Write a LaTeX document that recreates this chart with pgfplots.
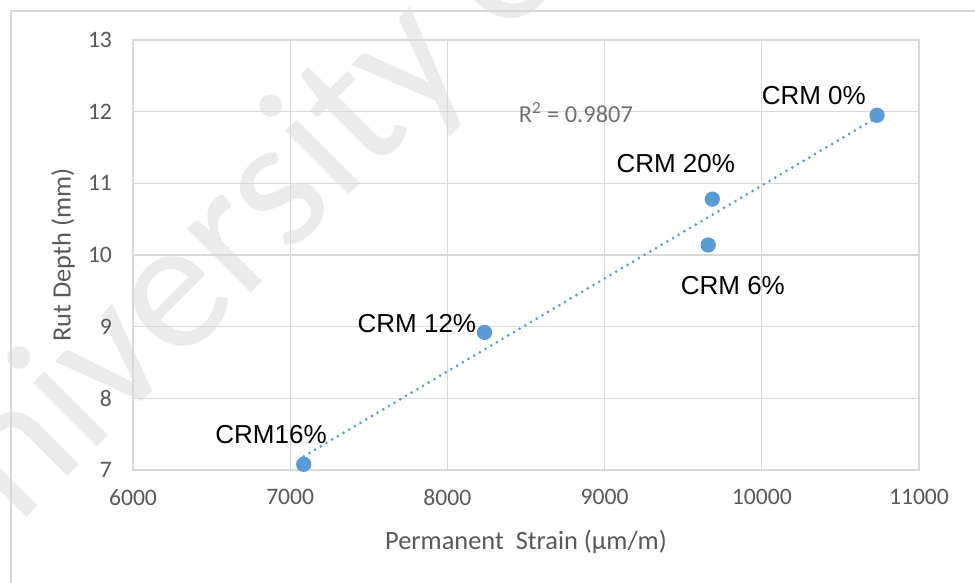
\documentclass[border=0pt]{standalone}
\usepackage{pgfplots}
\pgfplotsset{compat=1.18}
\usepackage{fontspec}
\setmainfont{Carlito}
\newfontfamily\arial{Liberation Sans}
\definecolor{xlblue}{HTML}{5B9BD5}
\definecolor{xlgrid}{HTML}{D9D9D9}
\definecolor{xltext}{HTML}{595959}
\definecolor{wmark}{HTML}{EBEBEB}

% measurements taken from the 975x583 screenshot, 1px = 0.5pt
\begin{document}
\begin{tikzpicture}
\useasboundingbox (0,0) rectangle (487.5pt,-291.5pt);
\fill[white] (0,0) rectangle (487.5pt,-291.5pt);
\begin{scope}
\clip (0,0) rectangle (487.5pt,-291.5pt);
\node[rotate=45, anchor=base west, text=wmark, font=\fontsize{94}{99}\selectfont, inner sep=0pt]
  at (-34pt,-306pt) {University of};
\end{scope}
\draw[xlgrid, line width=0.8pt] (5.5pt,-291.5pt) -- (5.5pt,-5.5pt) -- (487.5pt,-5.5pt);

\begin{axis}[
  at={(66.5pt,-235pt)}, anchor=south west,
  scale only axis, width=393pt, height=215pt,
  xmin=6000, xmax=11000, ymin=7, ymax=13,
  xtick={6000,7000,...,11000}, ytick={7,8,...,13},
  scaled ticks=false,
  grid=major,
  major grid style={xlgrid, line width=0.6pt},
  axis line style={xlgrid, line width=0.6pt},
  major tick length=0pt,
  /pgf/number format/assume math mode=true,
  /pgf/number format/set thousands separator={},
  ticklabel style={font=\fontsize{11.8}{14}\selectfont, text=xltext},
  yticklabel style={xshift=-7pt},
  xticklabel style={yshift=-6pt},
  xlabel={Permanent\ \ Strain (µm/m)},
  ylabel={Rut Depth (mm)},
  label style={font=\fontsize{13.2}{15}\selectfont, text=xltext},
  xlabel style={at={(axis description cs:0.5,-0.167)}, anchor=center},
  ylabel style={at={(axis description cs:-0.089,0.5)}, anchor=center},
  clip=false,
]
% linear trendline, end points
\addplot[xlblue, line width=1.5pt, line cap=round, dash pattern=on 0pt off 3.3pt]
  coordinates {(7086,7.19) (10733,11.92)};
\addplot[only marks, mark=*, mark size=3.6pt, mark options={draw=xlblue, fill=xlblue}]
  coordinates {
  (10733,11.95)
  (9685,10.78)
  (9659,10.14)
  (8236,8.92)
  (7086,7.08)
};
\node[font=\arial\fontsize{13}{15}\selectfont] at (axis cs:10331,12.23) {CRM 0\%};
\node[font=\arial\fontsize{13}{15}\selectfont] at (axis cs:9453,11.28) {CRM 20\%};
\node[font=\arial\fontsize{13}{15}\selectfont] at (axis cs:9816,9.57) {CRM 6\%};
\node[font=\arial\fontsize{13}{15}\selectfont] at (axis cs:7806,9.04) {CRM 12\%};
\node[font=\arial\fontsize{13}{15}\selectfont] at (axis cs:6878,7.50) {CRM16\%};
\node[font=\fontsize{12.2}{14}\selectfont, text=xltext!85] at (axis cs:8817,11.99) {R\textsuperscript{2} = 0.9807};
\end{axis}
\end{tikzpicture}
\end{document}
